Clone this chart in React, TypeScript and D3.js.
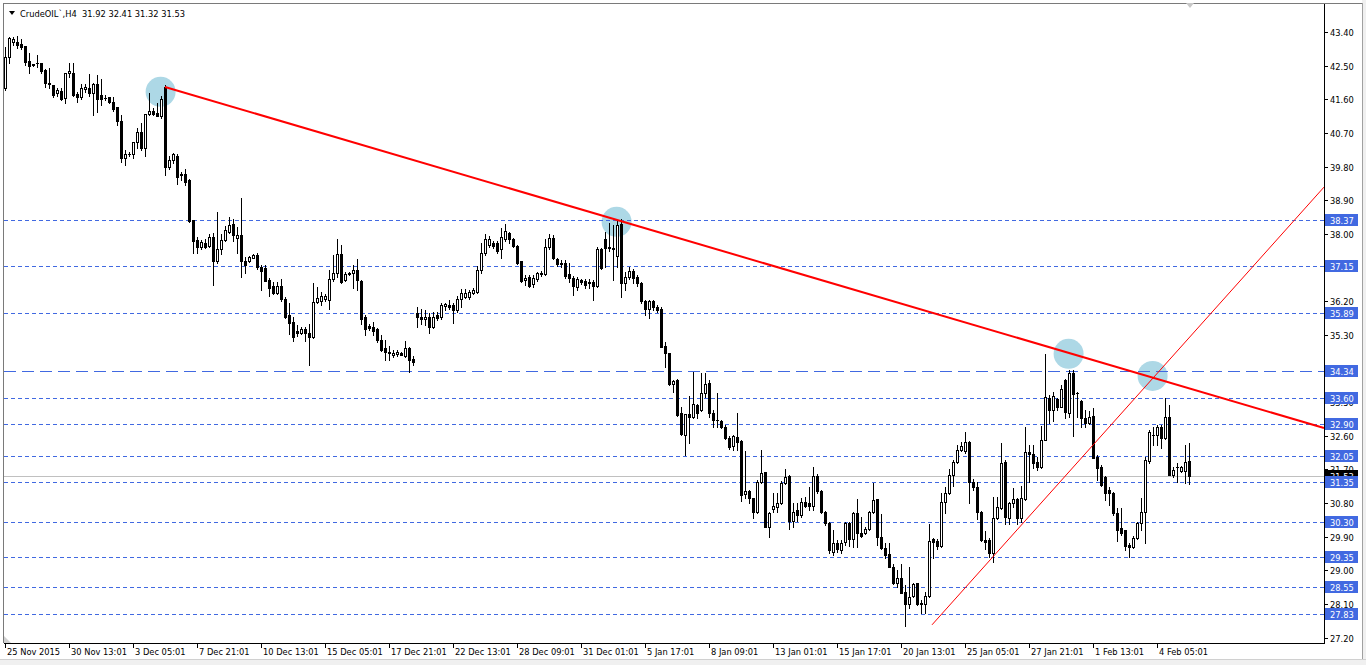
import React from "react";
import * as d3 from "d3";

// ---- data ----
const symbolTitle = "CrudeOIL`,H4  31.92 32.41 31.32 31.53";

// [open, high, low, close] per H4 bar
const ohlc: [number, number, number, number][] = [
  [41.90, 43.00, 41.85, 42.73], [42.73, 43.27, 42.57, 43.24], [43.14, 43.27, 43.05, 43.20], [43.14, 43.30, 42.98, 43.04],
  [43.08, 43.20, 42.95, 43.00], [43.02, 43.02, 42.52, 42.60], [42.62, 42.83, 42.29, 42.50], [42.53, 42.55, 42.50, 42.52],
  [42.57, 42.78, 42.47, 42.57], [42.58, 42.58, 42.31, 42.36], [42.38, 42.41, 41.94, 42.03], [42.04, 42.44, 41.90, 42.00],
  [41.98, 41.98, 41.67, 41.71], [41.77, 41.90, 41.70, 41.85], [41.83, 41.90, 41.58, 41.61], [41.63, 42.31, 41.50, 42.30],
  [42.30, 42.58, 42.20, 42.35], [42.31, 42.56, 41.70, 41.71], [41.74, 41.80, 41.54, 41.67], [41.67, 42.00, 41.60, 41.89],
  [41.87, 42.00, 41.80, 41.93], [41.89, 42.27, 41.70, 41.76], [41.76, 42.03, 41.18, 42.01], [42.01, 42.25, 41.27, 41.62],
  [41.71, 42.14, 41.45, 41.62], [41.63, 41.71, 41.58, 41.63], [41.67, 41.67, 41.50, 41.54], [41.53, 41.67, 41.28, 41.33],
  [41.39, 41.39, 40.91, 41.03], [41.03, 41.18, 39.93, 40.02], [40.02, 40.24, 39.84, 40.13], [40.13, 40.20, 40.07, 40.13],
  [40.13, 40.46, 40.04, 40.45], [40.45, 40.82, 40.30, 40.72], [40.72, 40.96, 40.24, 40.29], [40.29, 41.20, 40.08, 41.20],
  [41.20, 41.76, 41.17, 41.29], [41.29, 41.37, 41.17, 41.21], [41.23, 41.50, 41.14, 41.15], [41.16, 41.70, 41.10, 41.62],
  [41.93, 41.98, 39.57, 39.80], [39.78, 40.08, 39.74, 39.97], [39.97, 40.16, 39.90, 40.13], [40.08, 40.13, 39.33, 39.53],
  [39.60, 39.66, 39.44, 39.58], [39.60, 39.73, 39.31, 39.39], [39.44, 39.47, 38.32, 38.35], [38.37, 38.37, 37.50, 37.82],
  [37.83, 37.91, 37.50, 37.64], [37.64, 37.83, 37.60, 37.77], [37.76, 37.85, 37.62, 37.66], [37.68, 38.00, 37.64, 37.91],
  [37.91, 38.01, 36.62, 37.26], [37.28, 38.59, 37.21, 37.59], [37.59, 38.00, 37.46, 37.84], [37.84, 38.20, 37.80, 38.10],
  [38.06, 38.44, 38.02, 38.24], [38.26, 38.39, 37.82, 37.97], [37.89, 38.17, 37.50, 37.97], [37.97, 38.95, 36.85, 37.26],
  [37.26, 37.39, 36.94, 37.17], [37.28, 37.42, 37.25, 37.39], [37.36, 37.47, 37.35, 37.43], [37.43, 37.50, 37.05, 37.10],
  [37.10, 37.17, 36.50, 37.01], [37.08, 37.17, 36.73, 36.75], [36.77, 36.81, 36.34, 36.54], [36.61, 36.70, 36.39, 36.42],
  [36.42, 36.70, 36.38, 36.61], [36.60, 36.78, 36.19, 36.25], [36.26, 36.30, 35.74, 35.78], [35.83, 36.14, 35.32, 35.62],
  [35.63, 35.77, 35.14, 35.25], [35.41, 35.56, 35.27, 35.34], [35.34, 35.50, 35.31, 35.45], [35.46, 35.50, 35.14, 35.34],
  [35.34, 35.60, 34.49, 35.23], [35.23, 36.68, 35.20, 36.17], [36.17, 36.59, 36.15, 36.28], [36.20, 36.45, 36.10, 36.33],
  [36.26, 36.40, 36.20, 36.33], [36.23, 37.03, 36.00, 36.78], [36.78, 37.43, 36.75, 36.94], [36.94, 37.85, 36.85, 37.46],
  [37.46, 37.70, 36.69, 36.72], [36.77, 36.97, 36.74, 36.92], [36.93, 36.97, 36.90, 36.94], [36.94, 37.17, 36.54, 37.03],
  [37.03, 37.34, 36.50, 36.77], [36.75, 36.77, 35.60, 35.72], [35.78, 35.83, 35.29, 35.45], [35.53, 35.60, 35.44, 35.48],
  [35.52, 35.63, 35.30, 35.41], [35.45, 35.48, 35.10, 35.16], [35.16, 35.29, 34.87, 34.89], [34.94, 35.16, 34.62, 34.85],
  [34.83, 35.00, 34.62, 34.80], [34.75, 34.90, 34.70, 34.80], [34.78, 34.90, 34.72, 34.84], [34.80, 34.85, 34.75, 34.77],
  [34.74, 35.14, 34.70, 34.94], [34.94, 34.98, 34.30, 34.62], [34.66, 34.74, 34.50, 34.56], [35.87, 36.05, 35.51, 35.77],
  [35.77, 36.00, 35.60, 35.71], [35.71, 35.96, 35.55, 35.77], [35.77, 35.87, 35.34, 35.52], [35.52, 35.92, 35.49, 35.78],
  [35.83, 35.92, 35.69, 35.74], [35.78, 36.14, 35.72, 36.10], [36.07, 36.15, 35.97, 36.12], [36.10, 36.24, 35.98, 36.04],
  [36.10, 36.14, 35.62, 35.96], [35.96, 36.35, 35.90, 36.25], [36.25, 36.52, 36.03, 36.43], [36.32, 36.52, 36.28, 36.43],
  [36.30, 36.50, 36.25, 36.44], [36.41, 36.55, 36.38, 36.49], [36.45, 37.14, 36.43, 37.03], [37.03, 37.75, 36.94, 37.48],
  [37.48, 38.00, 37.43, 37.85], [37.70, 37.95, 37.65, 37.85], [37.75, 37.80, 37.63, 37.67], [37.75, 37.80, 37.50, 37.55],
  [37.59, 38.15, 37.35, 37.91], [37.85, 38.26, 37.82, 38.08], [38.03, 38.06, 37.75, 37.85], [37.85, 37.90, 37.64, 37.67],
  [37.67, 37.70, 37.19, 37.23], [37.26, 37.28, 36.72, 36.75], [36.76, 36.90, 36.63, 36.82], [36.84, 36.90, 36.59, 36.60],
  [36.66, 36.90, 36.58, 36.81], [36.78, 36.97, 36.75, 36.94], [36.92, 37.00, 36.88, 36.96], [36.92, 37.85, 36.90, 37.65],
  [37.65, 37.99, 37.60, 37.88], [37.88, 37.97, 37.32, 37.35], [37.32, 37.35, 37.15, 37.19], [37.23, 37.30, 37.10, 37.19],
  [37.21, 37.30, 36.83, 36.87], [36.92, 37.21, 36.70, 36.83], [36.83, 36.87, 36.36, 36.60], [36.57, 36.85, 36.50, 36.78],
  [36.77, 36.80, 36.66, 36.70], [36.75, 36.80, 36.55, 36.63], [36.68, 36.80, 36.55, 36.72], [36.72, 36.77, 36.23, 36.61],
  [36.61, 37.66, 36.59, 37.59], [37.59, 37.61, 37.05, 37.08], [37.86, 38.06, 37.12, 37.61], [37.66, 38.30, 37.55, 37.61],
  [37.63, 38.24, 36.77, 37.59], [37.41, 38.37, 37.12, 38.24], [38.26, 38.40, 36.32, 36.69], [36.69, 36.99, 36.50, 36.85],
  [36.85, 37.10, 36.80, 37.01], [37.01, 37.07, 36.68, 36.83], [36.85, 36.90, 36.60, 36.68], [36.68, 36.72, 36.16, 36.19],
  [36.19, 36.23, 35.83, 35.98], [36.00, 36.23, 35.74, 36.19], [36.19, 36.23, 35.95, 36.05], [36.05, 36.10, 35.90, 35.97],
  [36.00, 36.04, 34.96, 34.98], [34.99, 35.10, 34.45, 34.82], [34.80, 34.82, 33.95, 33.98], [33.98, 34.10, 33.76, 34.05],
  [34.10, 34.12, 33.12, 33.15], [33.20, 33.36, 32.62, 32.64], [32.63, 33.18, 32.08, 33.18], [33.18, 33.66, 32.41, 33.11],
  [33.10, 34.31, 33.07, 33.45], [33.43, 33.45, 33.07, 33.22], [33.29, 34.28, 33.27, 33.73], [33.73, 34.27, 33.64, 33.98],
  [34.00, 34.09, 33.11, 33.20], [33.20, 33.29, 32.84, 33.02], [33.03, 33.73, 32.84, 33.01], [33.00, 33.02, 32.81, 32.84],
  [32.84, 32.88, 32.50, 32.53], [32.55, 32.60, 32.25, 32.29], [32.32, 32.62, 32.22, 32.59], [32.57, 33.21, 32.22, 32.44],
  [32.47, 32.48, 30.86, 31.01], [31.04, 32.20, 30.92, 31.13], [31.13, 31.16, 30.80, 30.92], [30.92, 30.92, 30.39, 30.57],
  [30.57, 31.41, 30.54, 31.37], [31.37, 32.22, 31.34, 31.60], [31.62, 31.64, 30.15, 30.17], [30.17, 30.57, 29.90, 30.54],
  [30.63, 31.07, 30.57, 30.71], [30.68, 31.07, 30.57, 30.80], [30.79, 31.40, 30.76, 31.33], [31.33, 31.70, 31.30, 31.50],
  [31.52, 31.55, 30.10, 30.33], [30.31, 30.81, 30.17, 30.55], [30.61, 30.81, 30.33, 30.48], [30.48, 30.93, 30.43, 30.83],
  [30.83, 30.95, 30.68, 30.72], [30.79, 31.24, 30.60, 30.72], [30.72, 31.77, 30.62, 31.52], [31.53, 31.57, 31.07, 31.13],
  [31.13, 31.16, 30.53, 30.57], [30.57, 30.59, 30.21, 30.26], [30.27, 30.30, 29.45, 29.54], [29.50, 30.07, 29.40, 29.73],
  [29.72, 29.80, 29.50, 29.57], [29.55, 29.80, 29.45, 29.72], [29.75, 30.30, 29.68, 30.26], [30.26, 30.30, 29.66, 29.83],
  [29.83, 30.57, 29.63, 30.52], [30.52, 30.90, 29.63, 29.99], [30.00, 30.43, 29.88, 29.91], [29.99, 30.16, 29.96, 30.10],
  [30.10, 30.59, 30.08, 30.56], [30.56, 31.34, 30.53, 30.87], [30.90, 30.90, 29.68, 29.88], [29.88, 30.50, 29.56, 29.59],
  [29.59, 29.72, 29.32, 29.41], [29.44, 29.72, 29.10, 29.10], [29.10, 29.17, 28.63, 28.67], [28.65, 29.02, 28.56, 28.78],
  [28.78, 29.17, 28.38, 28.40], [28.42, 28.61, 27.51, 28.10], [28.10, 29.09, 27.98, 28.29], [28.30, 28.67, 28.28, 28.64],
  [28.66, 28.67, 28.07, 28.10], [28.13, 28.20, 27.85, 28.10], [28.10, 28.42, 27.85, 28.31], [28.31, 30.23, 28.29, 29.79],
  [29.83, 29.86, 29.32, 29.76], [29.79, 29.83, 29.56, 29.65], [29.65, 31.06, 29.63, 30.83], [30.83, 31.23, 30.54, 31.07],
  [31.07, 31.72, 31.04, 31.55], [31.55, 31.95, 31.25, 31.90], [31.90, 32.35, 31.88, 32.22], [32.22, 32.43, 32.20, 32.32],
  [32.20, 32.71, 32.13, 32.44], [32.44, 32.47, 30.81, 31.37], [31.37, 31.43, 31.16, 31.22], [31.22, 31.37, 30.36, 30.57],
  [30.57, 30.59, 29.79, 29.81], [29.81, 30.06, 29.58, 29.76], [29.81, 29.86, 29.36, 29.47], [29.47, 30.97, 29.23, 30.39],
  [30.39, 30.97, 30.36, 30.68], [30.66, 32.40, 30.63, 31.88], [31.90, 31.95, 30.24, 30.43], [30.39, 30.83, 30.25, 30.79],
  [30.79, 31.19, 30.70, 30.90], [30.90, 30.93, 30.24, 30.39], [30.39, 31.25, 30.30, 30.93], [30.90, 32.84, 30.88, 32.17],
  [32.17, 32.35, 31.37, 32.11], [32.11, 32.35, 31.73, 31.88], [31.90, 32.04, 31.68, 31.77], [31.76, 32.86, 31.74, 32.49],
  [32.49, 34.79, 32.48, 33.64], [33.62, 33.69, 32.93, 33.29], [33.29, 33.78, 32.98, 33.66], [33.57, 33.60, 33.30, 33.36],
  [33.37, 33.96, 33.36, 33.84], [34.09, 34.11, 33.07, 33.24], [33.21, 34.37, 33.09, 34.27], [34.27, 34.36, 32.59, 33.71],
  [33.75, 33.78, 33.11, 33.74], [33.53, 33.55, 32.84, 33.06], [33.06, 33.29, 32.84, 32.93], [32.93, 33.26, 32.90, 33.09],
  [33.13, 33.33, 32.00, 32.00], [32.04, 32.08, 31.41, 31.73], [31.75, 31.82, 31.25, 31.28], [31.49, 31.52, 30.88, 31.07],
  [31.15, 31.24, 30.75, 31.06], [31.07, 31.10, 30.49, 30.52], [30.54, 30.66, 29.79, 30.08], [30.12, 30.66, 29.94, 29.99],
  [30.08, 30.09, 29.54, 29.65], [29.68, 29.72, 29.35, 29.63], [29.63, 29.91, 29.59, 29.85], [29.85, 30.30, 29.83, 30.27],
  [30.26, 30.92, 30.08, 30.57], [30.57, 32.04, 29.72, 31.95], [31.93, 32.75, 31.88, 32.71], [32.62, 32.84, 32.35, 32.62],
  [32.62, 32.89, 32.35, 32.84], [32.84, 32.89, 32.26, 32.53], [32.53, 33.60, 32.50, 33.09], [33.09, 33.42, 31.55, 31.55],
  [31.55, 31.77, 31.50, 31.68], [31.75, 31.86, 31.37, 31.75], [31.66, 31.80, 31.62, 31.77], [31.66, 32.35, 31.34, 31.90],
  [31.92, 32.41, 31.32, 31.53],
];

const timeLabels = [
  "25 Nov 2015", "30 Nov 13:01", "3 Dec 05:01", "7 Dec 21:01", "10 Dec 13:01", "15 Dec 05:01", "17 Dec 21:01",
  "22 Dec 13:01", "28 Dec 09:01", "31 Dec 01:01", "5 Jan 17:01", "8 Jan 09:01", "13 Jan 01:01", "15 Jan 17:01",
  "20 Jan 13:01", "25 Jan 05:01", "27 Jan 21:01", "1 Feb 13:01", "4 Feb 05:01",
];
const barsPerTimeLabel = 16;

const priceTicks = [
  "27.20", "28.10", "29.00", "29.90", "30.80", "31.70", "32.60", "33.50", "34.40", "35.30",
  "36.20", "37.10", "38.00", "38.90", "39.80", "40.70", "41.60", "42.50", "43.40",
];

const shortDashLevels = [38.37, 37.15, 35.89, 33.60, 32.90, 32.05, 31.35, 30.30, 29.35, 28.55, 27.83];
const longDashLevels = [34.34];
const bidPrice = 31.53;

// trend lines: [bar1, price1, bar2, price2]
const thickTrend = [40, 41.93, 154, 38.34];
const thinTrend = [231.75, 27.54, 329.75, 39.25];

// highlight circles: [bar, price]
const circles: [number, number][] = [
  [38.9, 41.80], [152.9, 38.32], [265.9, 34.79], [286.9, 34.20],
];

// ---- layout ----
const W = 1366, H = 665;
const PL = 4, PR = 1324, PT = 4, PB = 643;
const FONT = "'DejaVu Sans', Tahoma, sans-serif";
const BLUE = "#4169E1";

export default function App() {
  const x = d3.scaleLinear().domain([0, ohlc.length - 1]).range([5, 5 + 4 * (ohlc.length - 1)]);
  const y = d3.scaleLinear().domain([27.83, 38.37]).range([614, 220]);
  const ry = (p: number) => Math.round(y(p));

  const lineAt = (t: number[], xEnd: number) => {
    const [b1, p1, b2, p2] = t;
    const bEnd = x.invert(xEnd);
    const pEnd = p1 + ((p2 - p1) / (b2 - b1)) * (bEnd - b1);
    return d3.line()([[x(b1), y(p1)], [xEnd, y(pEnd)]]) || "";
  };

  const allLevels = [...shortDashLevels, ...longDashLevels];
  // tick labels fully hidden under a level label in the reference are not drawn
  const visibleTicks = priceTicks.filter((t) => !allLevels.some((v) => Math.abs(y(v) - y(+t)) < 3));

  return (
    <div style={{ width: W, height: H, overflow: "hidden" }}>
      <style>{`body{margin:0;}`}</style>
      <svg width={W} height={H} style={{ display: "block", background: "#fff" }} fontFamily={FONT}>
        {/* window chrome */}
        <rect x={0} y={0} width={W} height={H} fill="#fff" />
        <rect x={1362} y={0} width={4} height={H} fill="#f0f0f0" />
        <rect x={0} y={659} width={W} height={6} fill="#f0f0f0" />
        <line x1={1362.5} x2={1362.5} y1={3} y2={659} stroke="#a0a0a0" />
        <line x1={0} x2={W} y1={659.5} y2={659.5} stroke="#d0d0d0" />
        <line x1={3} x2={1362} y1={3.5} y2={3.5} stroke="#7a7a7a" />
        <line x1={3.5} x2={3.5} y1={3} y2={PB} stroke="#7a7a7a" />

        {/* circles */}
        <g>
          {circles.map(([b, p], i) => (
            <circle key={i} cx={x(b)} cy={y(p)} r={15} fill="#ADD8E6" />
          ))}
        </g>

        {/* level lines */}
        <g shapeRendering="crispEdges">
          {shortDashLevels.map((v) => (
            <line key={v} x1={PL} x2={PR} y1={ry(v) + 0.5} y2={ry(v) + 0.5} stroke={BLUE} strokeDasharray="4,3" />
          ))}
          {longDashLevels.map((v) => (
            <line key={v} x1={PL} x2={PR} y1={ry(v) + 0.5} y2={ry(v) + 0.5} stroke={BLUE} strokeDasharray="12,6" />
          ))}
          <line x1={PL} x2={PR} y1={ry(bidPrice) + 0.5} y2={ry(bidPrice) + 0.5} stroke="#c0c0c0" />
        </g>

        {/* candles */}
        <g shapeRendering="crispEdges">
          {ohlc.map(([o, h, l, c], i) => {
            const cx = Math.round(x(i));
            const yh = ry(h), yl = ry(l);
            const top = ry(Math.max(o, c)), bot = ry(Math.min(o, c));
            const bull = c > o;
            return (
              <g key={i}>
                <rect x={cx} y={yh} width={1} height={Math.max(yl - yh + 1, 1)} fill="#000" />
                {bull ? (
                  <rect x={cx - 0.5} y={top + 0.5} width={2} height={Math.max(bot - top, 0)} fill="#fff" stroke="#000" />
                ) : (
                  <rect x={cx - 1} y={top} width={3} height={Math.max(bot - top + 1, 1)} fill="#000" />
                )}
              </g>
            );
          })}
        </g>

        {/* trend lines */}
        <path d={lineAt(thickTrend, PR)} stroke="#ff0000" strokeWidth={2} fill="none" />
        <path d={lineAt(thinTrend, PR)} stroke="#ff0000" strokeWidth={1} fill="none" />

        {/* axes frame */}
        <g shapeRendering="crispEdges">
          <line x1={PR + 0.5} x2={PR + 0.5} y1={PT} y2={PB + 1} stroke="#000" />
          <line x1={PL} x2={PR + 1} y1={PB + 0.5} y2={PB + 0.5} stroke="#000" />
        </g>

        {/* price axis */}
        <g fontSize={8.3} shapeRendering="crispEdges">
          {priceTicks.map((t) => (
            <line key={"t" + t} x1={PR} x2={PR + 4} y1={ry(+t) + 0.5} y2={ry(+t) + 0.5} stroke="#000" />
          ))}
          {visibleTicks.map((t) => (
            <text key={t} x={1330} y={ry(+t) + 3.5} fill="#000">{t}</text>
          ))}
          <rect x={1325} y={ry(bidPrice) - 6} width={33} height={12} fill="#000" />
          <text x={1330} y={ry(bidPrice) + 3.5} fill="#fff">{bidPrice.toFixed(2)}</text>
          {allLevels.map((v) => (
            <g key={v}>
              <rect x={1325} y={ry(v) - 6} width={33} height={12} fill={BLUE} />
              <text x={1330} y={ry(v) + 3.5} fill="#fff">{v.toFixed(2)}</text>
            </g>
          ))}
        </g>

        {/* time axis */}
        <g fontSize={8.3} shapeRendering="crispEdges">
          {timeLabels.map((t, k) => {
            const xx = Math.round(x(k * barsPerTimeLabel));
            return (
              <g key={t}>
                <line x1={xx + 0.5} x2={xx + 0.5} y1={PB} y2={PB + 5} stroke="#000" />
                <text x={xx + 2} y={655} fill="#000">{t}</text>
              </g>
            );
          })}
        </g>

        {/* header */}
        <path d="M9,11 L15,11 L12,15 Z" fill="#000" />
        <text x={20} y={16.5} fontSize={8.3} fill="#000" style={{ whiteSpace: "pre" }}>{symbolTitle}</text>
        <path d="M1186,3 L1194,3 L1190,8 Z" fill="#c8c8c8" />
        <path d="M4,636 L4,643 L11,643 Z" fill="#d0d0d0" />
      </svg>
    </div>
  );
}
